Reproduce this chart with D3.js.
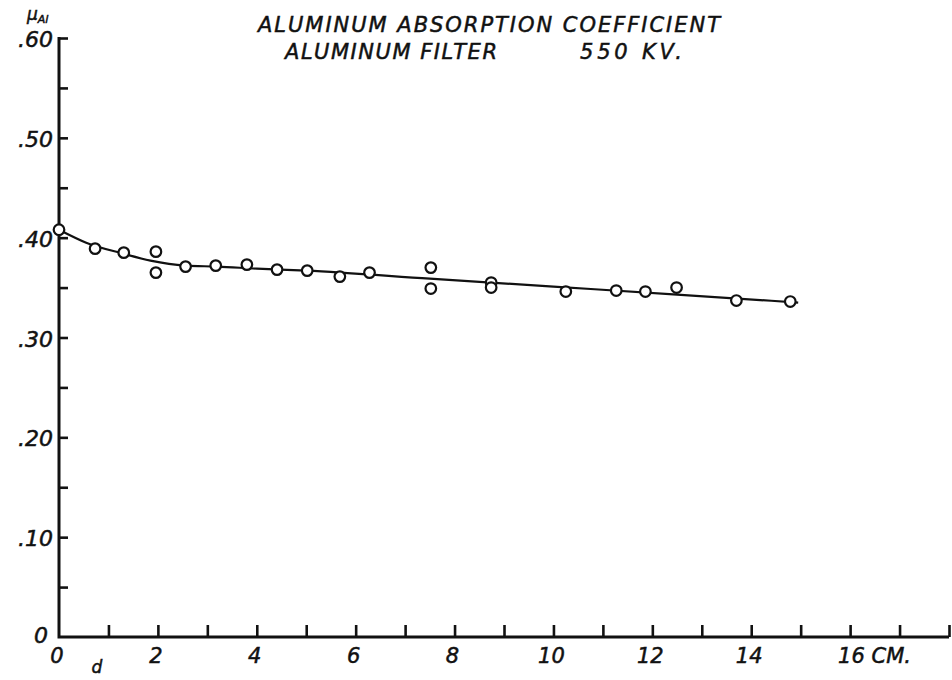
<!DOCTYPE html>
<html>
<head>
<meta charset="utf-8">
<script src="https://cdn.jsdelivr.net/npm/d3@7"></script>
<style>
  html, body { margin: 0; padding: 0; background: #fff; }
  svg text { font-family: "DejaVu Sans", sans-serif; font-style: oblique; fill: #111; stroke: #111; stroke-width: 0.5; }
</style>
</head>
<body>
<svg id="chart" width="952" height="680"></svg>
<script>
// measured points, thickness d (cm) vs mu_Al
const pointD  = [0, 0.73, 1.31, 1.96, 1.96, 2.56, 3.17, 3.80, 4.41, 5.02, 5.68, 6.28, 7.52, 7.52, 8.74, 8.74, 10.25, 11.27, 11.86, 12.49, 13.70, 14.79]
const pointMu = [0.408, 0.389, 0.385, 0.386, 0.365, 0.371, 0.372, 0.373, 0.368, 0.367, 0.361, 0.365, 0.370, 0.349, 0.355, 0.350, 0.346, 0.347, 0.346, 0.350, 0.337, 0.336]

// hand drawn fitted curve
const curveD  = [0, 0.55, 1.3, 1.85, 2.55, 3.2, 4.0, 5.0, 7.5, 10.0, 12.5, 14.95]
const curveMu = [0.408, 0.395, 0.384, 0.377, 0.372, 0.371, 0.369, 0.367, 0.359, 0.351, 0.343, 0.335]

const yLabelVals = [0, 0.1, 0.2, 0.3, 0.4, 0.5, 0.6]
const yLabelText = ["0", ".10", ".20", ".30", ".40", ".50", ".60"]
const xLabelVals = [0, 2, 4, 6, 8, 10, 12, 14, 16]
const xLabelText = ["0", "2", "4", "6", "8", "10", "12", "14", "16 CM."]

const svg = d3.select("#chart")

const x = d3.scaleLinear().domain([0, 18]).range([59, 949])
const y = d3.scaleLinear().domain([0, 0.6]).range([637, 38])

// y ticks point right, x ticks point up, like the drawing
const yAxis = d3.axisRight(y)
  .tickValues(d3.range(0.05, 0.601, 0.05))
  .tickSize(9)
  .tickFormat("")
svg.append("g")
  .attr("transform", `translate(${x(0)},0)`)
  .call(yAxis)
  .call(g => g.select(".domain").remove())
  .call(g => g.selectAll("line").attr("stroke", "#111").attr("stroke-width", 2.6))

const xAxis = d3.axisTop(x)
  .tickValues(d3.range(1, 19, 1))
  .tickSize(12)
  .tickFormat("")
svg.append("g")
  .attr("transform", `translate(0,${y(0)})`)
  .call(xAxis)
  .call(g => g.select(".domain").remove())
  .call(g => g.selectAll("line").attr("stroke", "#111").attr("stroke-width", 2.6))

svg.append("path")
  .attr("d", `M${x(0)},${y(0.6) - 1}V${y(0)}H${x(18)}`)
  .attr("fill", "none")
  .attr("stroke", "#111")
  .attr("stroke-width", 3)
  .attr("stroke-linejoin", "miter")

// tick labels
svg.selectAll(".ylab")
  .data(yLabelVals)
  .enter()
  .append("text")
  .attr("class", "ylab")
  .attr("x", d => d === 0 ? 48 : 53)
  .attr("y", d => y(d) + (d === 0 ? 6 : 9))
  .attr("text-anchor", "end")
  .attr("font-size", 22)
  .text((d, i) => yLabelText[i])

svg.selectAll(".xlab")
  .data(xLabelVals)
  .enter()
  .append("text")
  .attr("class", "xlab")
  .attr("x", d => d === 16 ? x(16) - 12 : x(d) - 2)
  .attr("y", 663)
  .attr("text-anchor", d => d === 16 ? "start" : "middle")
  .attr("font-size", 21)
  .text((d, i) => xLabelText[i])

svg.append("text")
  .attr("x", 97)
  .attr("y", 673)
  .attr("text-anchor", "middle")
  .attr("font-size", 17)
  .text("d")

const muLabel = svg.append("text")
  .attr("x", 27)
  .attr("y", 20)
  .attr("font-size", 17)
muLabel.append("tspan").text("μ")
muLabel.append("tspan").attr("font-size", 11).attr("dy", 3).text("Al")

// title
svg.append("text")
  .attr("x", 258).attr("y", 32)
  .attr("font-size", 21)
  .attr("textLength", 462)
  .attr("lengthAdjust", "spacing")
  .text("ALUMINUM  ABSORPTION  COEFFICIENT")
svg.append("text")
  .attr("x", 285).attr("y", 59)
  .attr("font-size", 21)
  .attr("textLength", 212)
  .attr("lengthAdjust", "spacing")
  .text("ALUMINUM  FILTER")
svg.append("text")
  .attr("x", 580).attr("y", 59)
  .attr("font-size", 21)
  .attr("textLength", 102)
  .attr("lengthAdjust", "spacing")
  .text("550  KV.")

// curve
const curveData = curveD.map((d, i) => ({ d: d, mu: curveMu[i] }))
const line = d3.line()
  .x(p => x(p.d))
  .y(p => y(p.mu))
  .curve(d3.curveMonotoneX)
svg.append("path")
  .datum(curveData)
  .attr("d", line)
  .attr("fill", "none")
  .attr("stroke", "#111")
  .attr("stroke-width", 2.2)

// points
const pts = pointD.map((d, i) => ({ d: d, mu: pointMu[i] }))
svg.selectAll("circle")
  .data(pts)
  .enter()
  .append("circle")
  .attr("cx", p => x(p.d))
  .attr("cy", p => y(p.mu))
  .attr("r", 5.3)
  .attr("fill", "#fff")
  .attr("stroke", "#111")
  .attr("stroke-width", 2.2)
</script>
</body>
</html>
